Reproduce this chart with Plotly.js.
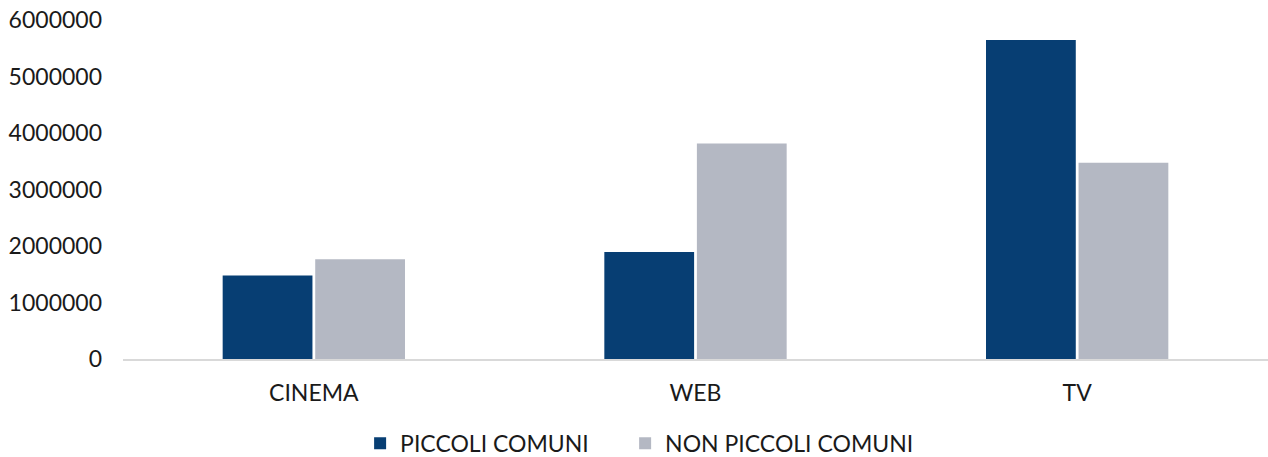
<!DOCTYPE html>
<html>
<head>
<meta charset="utf-8">
<script src="https://cdn.plot.ly/plotly-3.0.1.min.js"></script>
<style>html,body{margin:0;padding:0;background:#fff;}#chart{width:1268px;height:457px;}</style>
</head>
<body>
<div id="chart"></div>
<script>
const categories = ["CINEMA", "WEB", "TV"];
const piccoliComuni = [1480000, 1895000, 5645000];
const nonPiccoliComuni = [1765000, 3815000, 3472000];
const yTicks = [0, 1000000, 2000000, 3000000, 4000000, 5000000, 6000000];

const font = {family: "Lato, 'Open Sans', sans-serif", size: 23, color: "#1a1a1a"};

const data = [
  {type: "bar", name: "PICCOLI COMUNI", x: categories, y: piccoliComuni,
   marker: {color: "#073E73"}, hoverinfo: "none", legend: "legend"},
  {type: "bar", name: "NON PICCOLI COMUNI", x: categories, y: nonPiccoliComuni,
   marker: {color: "#B4B8C3"}, hoverinfo: "none", legend: "legend2"}
];

const legendBase = {orientation: "h", xanchor: "left", xref: "container",
  y: 0.03, yanchor: "middle", yref: "container", font: font, itemwidth: 30,
  bgcolor: "rgba(0,0,0,0)"};

const layout = {
  width: 1268, height: 457,
  margin: {l: 123, r: 0, t: 20, b: 98, autoexpand: false},
  paper_bgcolor: "#fff", plot_bgcolor: "#fff",
  font: font,
  barmode: "group",
  bargap: 0.515,
  bargroupgap: 0.03,
  showlegend: true,
  legend: Object.assign({}, legendBase, {x: 0.284}),
  legend2: Object.assign({}, legendBase, {x: 0.493}),
  xaxis: {showline: true, linecolor: "#D9D9D9", linewidth: 2, showgrid: false,
          ticks: "", ticklabelstandoff: 12, tickfont: font, fixedrange: true},
  yaxis: {range: [0, 6000000], tickvals: yTicks, ticktext: yTicks.map(String),
          showgrid: false, zeroline: false, showline: false, ticks: "",
          ticklabelstandoff: 20, tickfont: font, fixedrange: true}
};

Plotly.newPlot("chart", data, layout, {displayModeBar: false, staticPlot: true});
</script>
</body>
</html>
